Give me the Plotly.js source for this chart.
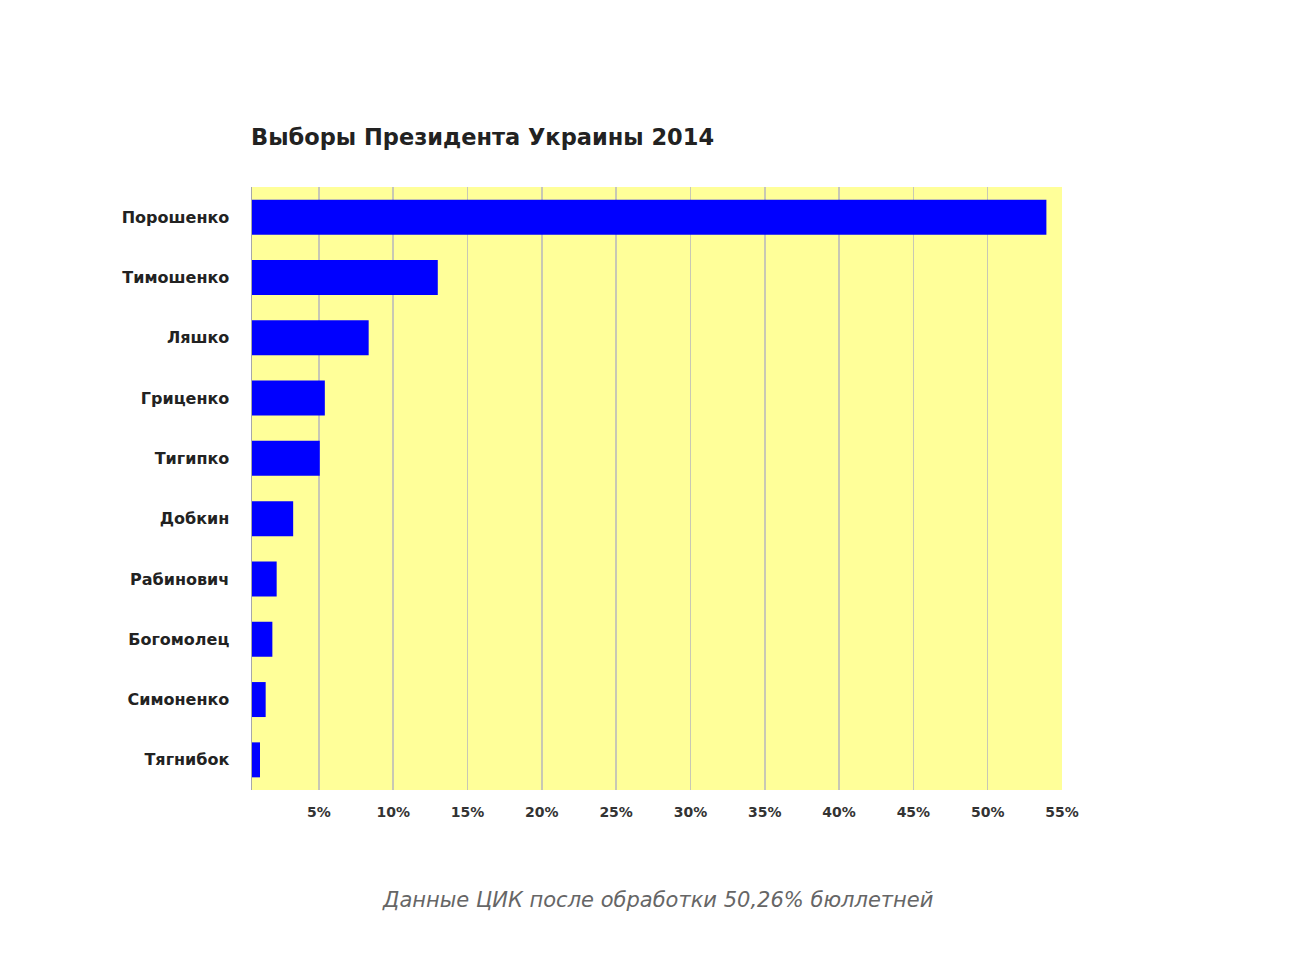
<!DOCTYPE html>
<html>
<head>
<meta charset="utf-8">
<script src="https://cdn.plot.ly/plotly-3.0.1.min.js"></script>
<style>
  html, body { margin: 0; padding: 0; background: #ffffff; }
  #chart { width: 1300px; height: 975px; }
</style>
</head>
<body>
<div id="chart"></div>
<script>
// Candidates, top to bottom
const candidates = [
  'Порошенко', 'Тимошенко', 'Ляшко', 'Гриценко', 'Тигипко',
  'Добкин', 'Рабинович', 'Богомолец', 'Симоненко', 'Тягнибок'
];

// Share of votes, %
const votes = [53.95, 13.0, 8.35, 5.4, 5.06, 3.27, 2.16, 1.87, 1.42, 1.04];

const tickValues = [5, 10, 15, 20, 25, 30, 35, 40, 45, 50, 55];
const tickLabels = tickValues.map(v => v + '%');

const chartTitle = 'Выборы Президента Украины 2014';
const footnote = 'Данные ЦИК после обработки 50,26% бюллетней';

const FONT = 'DejaVu Sans, Verdana, sans-serif';

const trace = {
  type: 'bar',
  orientation: 'h',
  x: votes,
  y: candidates,
  marker: { color: '#0000ff', line: { width: 0 } },
  hoverinfo: 'x+y'
};

const layout = {
  width: 1300,
  height: 975,
  paper_bgcolor: '#ffffff',
  plot_bgcolor: '#ffff99',
  margin: { l: 252, r: 238, t: 187, b: 185 },
  bargap: 0.42,
  showlegend: false,
  font: { family: FONT, color: '#222222' },
  title: {
    text: '<b>' + chartTitle + '</b>',
    font: { size: 22.5, color: '#222222', family: FONT },
    x: 251 / 1300,
    xanchor: 'left',
    xref: 'container',
    y: 1 - 137 / 975,
    yanchor: 'middle',
    yref: 'container'
  },
  xaxis: {
    range: [0.5, 55],
    tickvals: tickValues,
    ticktext: tickLabels,
    showgrid: true,
    gridcolor: '#c8c8b4',
    gridwidth: 1.5,
    zeroline: false,
    showline: false,
    ticks: 'outside',
    ticklen: 9,
    tickcolor: 'rgba(0,0,0,0)',
    tickfont: { size: 14, color: '#333333', family: FONT, weight: 'bold' },
    fixedrange: true
  },
  yaxis: {
    autorange: 'reversed',
    showgrid: false,
    zeroline: false,
    showline: true,
    linecolor: '#a8a8a8',
    linewidth: 1.5,
    ticks: 'outside',
    ticklen: 18,
    tickcolor: 'rgba(0,0,0,0)',
    tickfont: { size: 16, color: '#222222', family: FONT, weight: 'bold' },
    fixedrange: true
  },
  annotations: [{
    text: '<i>' + footnote + '</i>',
    xref: 'paper',
    yref: 'paper',
    x: 0.5,
    y: -110 / 603,
    xanchor: 'center',
    yanchor: 'middle',
    showarrow: false,
    font: { size: 21, color: '#666666', family: FONT }
  }]
};

Plotly.newPlot('chart', [trace], layout, { displayModeBar: false, staticPlot: true });
</script>
</body>
</html>
